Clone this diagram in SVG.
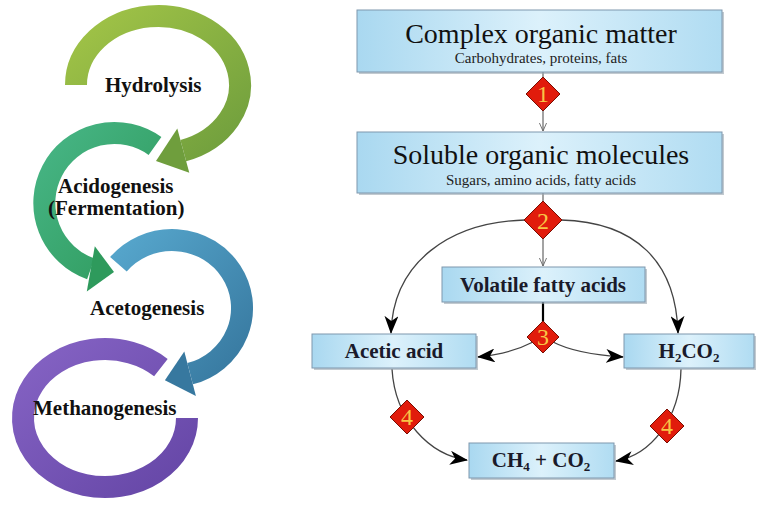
<svg xmlns="http://www.w3.org/2000/svg" width="765" height="512" viewBox="0 0 765 512">
<defs>
<linearGradient id="gGreen" x1="0" y1="0" x2="1" y2="1"><stop offset="0" stop-color="#a2c447"/><stop offset="1" stop-color="#6f9e3d"/></linearGradient>
<linearGradient id="gTeal" x1="0" y1="0" x2="1" y2="1"><stop offset="0" stop-color="#47b585"/><stop offset="1" stop-color="#2e9a5c"/></linearGradient>
<linearGradient id="gBlue" x1="0" y1="0" x2="1" y2="1"><stop offset="0" stop-color="#56a6cc"/><stop offset="1" stop-color="#37789f"/></linearGradient>
<linearGradient id="gPurple" x1="0" y1="0" x2="1" y2="1"><stop offset="0" stop-color="#8563c4"/><stop offset="1" stop-color="#6546a6"/></linearGradient>
<linearGradient id="gBox" x1="0" y1="0" x2="1" y2="0"><stop offset="0" stop-color="#a9d8f0"/><stop offset="0.5" stop-color="#dcf1fb"/><stop offset="1" stop-color="#b0dcf2"/></linearGradient>
<marker id="mBlack" viewBox="0 0 18 14" refX="17" refY="7" markerWidth="18" markerHeight="14" markerUnits="userSpaceOnUse" orient="auto"><path d="M0,0 L18,7 L0,14 L5,7 z" fill="#000"/></marker>
<marker id="mOpen" viewBox="0 0 10 10" refX="9" refY="5" markerWidth="9" markerHeight="9" markerUnits="userSpaceOnUse" orient="auto"><path d="M0,1 L9,5 L0,9" fill="none" stroke="#666" stroke-width="1"/></marker>
</defs>
<style>
.box{fill:url(#gBox);stroke:#7f97ad;stroke-width:1}
.shadow{fill:#9aa6b0;opacity:0.6}
.dia{fill:#e11c0c;stroke:#7a0d02;stroke-width:1}
.num{font-family:"Liberation Serif",serif;font-size:24px;fill:#f8c545;text-anchor:middle}
.big{font-family:"Liberation Serif",serif;font-size:28px;fill:#111;text-anchor:middle}
.small{font-family:"Liberation Serif",serif;font-size:15px;fill:#222;text-anchor:middle}
.bold{font-family:"Liberation Serif",serif;font-weight:bold;font-size:21px;fill:#1a1a2a;text-anchor:middle}
.sub{font-size:13px}
.stage{font-family:"Liberation Serif",serif;font-weight:bold;font-size:21px;fill:#111}
.thin{fill:none;stroke:#666;stroke-width:1.2}
.curve{fill:none;stroke:#444;stroke-width:1.3}
.band{fill:none;stroke-width:22}
</style>
<rect width="765" height="512" fill="#fff"/>

<g id="stage-hydrolysis">
<path class="band" stroke="url(#gGreen)" d="M76 85 A82 69 0 1 1 183.3 150.6"/>
<polygon fill="#6f9e3d" points="189.3,172.8 177.3,128.4 156,161"/>
<text class="stage" x="105" y="92">Hydrolysis</text>
</g>
<g id="stage-acidogenesis">
<path class="band" stroke="url(#gTeal)" d="M155 146 A70 70 0 1 0 90.8 268.9"/>
<polygon fill="#2e9a5c" points="86.8,291.6 94.8,246.2 114,272"/>
<text class="stage" x="58" y="193">Acidogenesis</text>
<text class="stage" x="48" y="215">(Fermentation)</text>
</g>
<g id="stage-acetogenesis">
<path class="band" stroke="url(#gBlue)" d="M118.4 264.3 A70 68 0 1 1 190.1 373.7"/>
<polygon fill="#37789f" points="195.9,396 184.3,351.4 164.9,380.3"/>
<text class="stage" x="90" y="315">Acetogenesis</text>
</g>
<g id="stage-methanogenesis">
<path class="band" stroke="url(#gPurple)" d="M160.9 367.6 A82 69 0 1 0 187 418"/>
<text class="stage" x="33" y="415">Methanogenesis</text>
</g>

<g id="connectors">
<line class="thin" x1="543" y1="72" x2="543" y2="131" marker-end="url(#mOpen)"/>
<line class="thin" x1="543" y1="193" x2="543" y2="266" marker-end="url(#mOpen)"/>
<path class="curve" d="M525 220 C450 222 393 262 391 333" marker-end="url(#mBlack)"/>
<path class="curve" d="M561 220 C636 222 676 262 678 333" marker-end="url(#mBlack)"/>
<line x1="543" y1="302" x2="543" y2="325" stroke="#000" stroke-width="2.2"/>
<path class="curve" d="M533 342 Q510 354 478 357" marker-end="url(#mBlack)"/>
<path class="curve" d="M553 342 Q576 354 623 357" marker-end="url(#mBlack)"/>
<path class="curve" d="M392 369 C395 420 430 455 467 460" marker-end="url(#mBlack)"/>
<path class="curve" d="M681 369 C680 420 650 455 616 461" marker-end="url(#mBlack)"/>
</g>

<g id="complex">
<rect class="shadow" x="359" y="12" width="365" height="62"/>
<rect class="box" x="357" y="10" width="365" height="62"/>
<text class="big" x="541" y="43">Complex organic matter</text>
<text class="small" x="541" y="63">Carbohydrates, proteins, fats</text>
</g>
<g id="soluble">
<rect class="shadow" x="359" y="134" width="365" height="61"/>
<rect class="box" x="357" y="132" width="365" height="61"/>
<text class="big" x="541" y="164">Soluble organic molecules</text>
<text class="small" x="541" y="185">Sugars, amino acids, fatty acids</text>
</g>
<g id="vfa">
<rect class="shadow" x="444" y="269" width="203" height="35"/>
<rect class="box" x="442" y="267" width="203" height="35"/>
<text class="bold" x="543" y="292">Volatile fatty acids</text>
</g>
<g id="acetic">
<rect class="shadow" x="314" y="336" width="164" height="34"/>
<rect class="box" x="312" y="334" width="164" height="34"/>
<text class="bold" x="394" y="358">Acetic acid</text>
</g>
<g id="h2co2">
<rect class="shadow" x="626" y="336" width="130" height="34"/>
<rect class="box" x="624" y="334" width="130" height="34"/>
<text class="bold" x="689" y="358">H<tspan class="sub" dy="4">2</tspan><tspan dy="-4">CO</tspan><tspan class="sub" dy="4">2</tspan></text>
</g>
<g id="ch4">
<rect class="shadow" x="471" y="445" width="145" height="35"/>
<rect class="box" x="469" y="443" width="145" height="35"/>
<text class="bold" x="541" y="467">CH<tspan class="sub" dy="4">4</tspan><tspan dy="-4"> + CO</tspan><tspan class="sub" dy="4">2</tspan></text>
</g>

<g id="step1"><polygon class="dia" points="543,77 560,94 543,111 526,94"/><text class="num" x="543" y="102">1</text></g>
<g id="step2"><polygon class="dia" points="543,201 562,220 543,239 524,220"/><text class="num" x="543" y="229">2</text></g>
<g id="step3"><polygon class="dia" points="543,321 559,337 543,353 527,337"/><text class="num" x="543" y="345">3</text></g>
<g id="step4a"><polygon class="dia" points="407,400 424,417 407,434 390,417"/><text class="num" x="407" y="425">4</text></g>
<g id="step4b"><polygon class="dia" points="667,409 684,426 667,443 650,426"/><text class="num" x="667" y="434">4</text></g>
</svg>
